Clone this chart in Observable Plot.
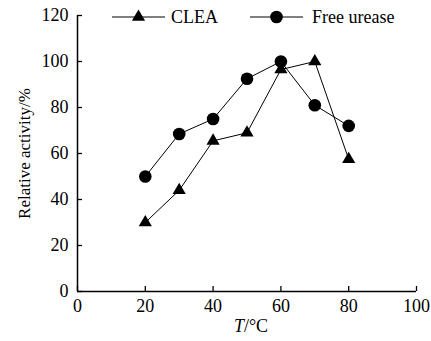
<!DOCTYPE html>
<html>
<head>
<meta charset="utf-8">
<script src="https://cdn.jsdelivr.net/npm/d3@7"></script>
<script src="https://cdn.jsdelivr.net/npm/@observablehq/plot@0.6"></script>
<style>
  html, body { margin: 0; padding: 0; background: #fff; }
  #wrap { position: relative; width: 431px; height: 341px; font-family: "Liberation Serif", serif; }
  #legend { position: absolute; top: 6px; left: 0; width: 431px; height: 22px; font-size: 18px; color: #000; }
  #xlabel { position: absolute; left: 0; width: 431px; top: 316px; text-align: center; padding-left: 71px; box-sizing: border-box; font-size: 18px; line-height: 20px; }
</style>
</head>
<body>
<div id="wrap">
  <div id="chart"></div>
  <div id="legend"></div>
  <div id="xlabel"><i>T</i>/°C</div>
</div>
<script>
const temperature = [20, 30, 40, 50, 60, 70, 80];
const clea = [30, 44, 65.5, 69, 96.5, 100, 57.5];
const freeUrease = [50, 68.5, 75, 92.5, 100, 81, 72];
const xTicks = [0, 20, 40, 60, 80, 100];
const yTicks = [0, 20, 40, 60, 80, 100, 120];
const seriesNames = ["CLEA", "Free urease"];
const seriesSymbols = ["triangle", "circle"];

const rows = [];
temperature.forEach((t, i) => {
  rows.push({T: t, v: clea[i], s: seriesNames[0]});
  rows.push({T: t, v: freeUrease[i], s: seriesNames[1]});
});

const font = "Liberation Serif, serif";
const chart = Plot.plot({
  width: 431,
  height: 341,
  marginLeft: 77,
  marginRight: 15,
  marginTop: 15,
  marginBottom: 50,
  style: {fontFamily: font, fontSize: "18px", color: "#000", background: "#fff"},
  x: {domain: [0, 100]},
  y: {domain: [0, 120]},
  symbol: {domain: seriesNames, range: seriesSymbols},
  marks: [
    Plot.axisX({ticks: xTicks, tickSize: -5, tickPadding: 13, label: null, tickFormat: d => d, strokeWidth: 1.3, fontSize: 18}),
    Plot.axisY({ticks: yTicks, tickSize: -5, tickPadding: 14, label: null, tickFormat: d => d, strokeWidth: 1.3, fontSize: 18}),
    Plot.axisY({ticks: [], tickSize: 0, label: "Relative activity/%", labelAnchor: "center", labelOffset: 60, labelArrow: "none", fontSize: 17}),
    Plot.ruleX([0], {stroke: "#000", strokeWidth: 1.5}),
    Plot.ruleY([0], {stroke: "#000", strokeWidth: 1.5}),
    Plot.line(rows, {x: "T", y: "v", z: "s", stroke: "#000", strokeWidth: 1}),
    Plot.dot(rows.filter(d => d.s === seriesNames[1]), {x: "T", y: "v", symbol: "s", r: 6.3, fill: "#000", stroke: "none"}),
    Plot.dot(rows.filter(d => d.s === seriesNames[0]), {x: "T", y: "v", symbol: "s", r: 4.9, fill: "#000", stroke: "none"})
  ]
});
document.getElementById("chart").appendChild(chart);

// legend overlay
const legendItems = [
  {name: seriesNames[0], symbol: d3.symbolTriangle, size: 75, left: 112, gap: 6},
  {name: seriesNames[1], symbol: d3.symbolCircle, size: 125, left: 250, gap: 9}
];
const leg = document.getElementById("legend");
legendItems.forEach(it => {
  const div = document.createElement("div");
  div.style.position = "absolute";
  div.style.left = it.left + "px";
  div.style.top = "0px";
  div.style.display = "flex";
  div.style.alignItems = "center";
  const svg = d3.create("svg").attr("width", 53).attr("height", 22);
  svg.append("line").attr("x1", 0).attr("x2", 53).attr("y1", 11).attr("y2", 11).attr("stroke", "#000").attr("stroke-width", 1);
  svg.append("path").attr("d", d3.symbol(it.symbol, it.size)()).attr("transform", "translate(26.5,11)").attr("fill", "#000");
  div.appendChild(svg.node());
  const span = document.createElement("span");
  span.textContent = it.name;
  span.style.marginLeft = it.gap + "px";
  div.appendChild(span);
  leg.appendChild(div);
});
</script>
</body>
</html>
